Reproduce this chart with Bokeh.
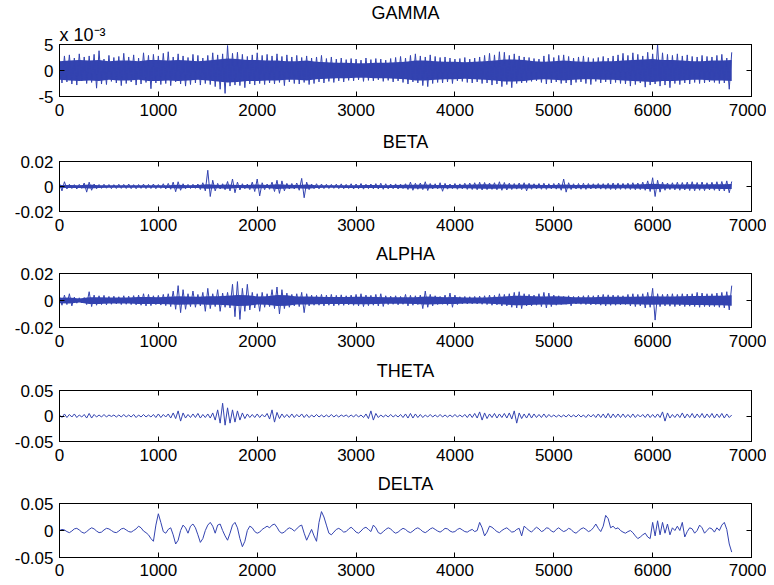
from bokeh.plotting import figure
from bokeh.layouts import column
from bokeh.models import FixedTicker, LinearAxis, Title, Range1d
from bokeh.embed import file_html
from bokeh.resources import INLINE

# sample index of every reading (one reading per 25 samples)
samples = list(range(0, 6801, 25))
# sample index of the dense-core readings (one per 100 samples)
core_samples = list(range(0, 6801, 100))

# GAMMA band, in units of 1e-3
gamma = [
    2.0, -2.4, 2.8, -2.2, 3.0, -2.6, 2.4, -2.8, 3.2, -2.0, 2.6, -2.5,
    2.8, -2.3, 3.1, -3.4, 3.8, -2.6, 2.2, -2.7, 2.9, -2.1, 2.5, -2.4,
    2.7, -2.9, 3.3, -2.5, 2.6, -2.2, 3.0, -2.8, 2.4, -2.6, 3.4, -2.3,
    2.9, -3.5, 3.1, -2.4, 2.8, -2.7, 3.3, -2.5, 3.6, -2.9, 2.6, -2.2,
    3.2, -2.6, 2.8, -3.0, 2.5, -2.7, 3.1, -2.4, 2.9, -2.8, 2.4, -2.5,
    2.9, -2.7, 3.4, -3.1, 3.0, -3.6, 3.2, -4.4, 4.8, -3.0, 3.3, -2.8,
    3.5, -2.9, 3.1, -3.3, 2.7, -2.6, 3.0, -2.8, 3.4, -2.5, 2.9, -2.7,
    3.1, -2.4, 2.8, -2.6, 3.2, -2.3, 2.7, -2.9, 3.0, -2.2, 2.6, -2.5,
    2.9, -2.6, 2.5, -2.3, 2.8, -2.7, 2.4, -2.5, 2.6, -2.2, 2.9, -2.4,
    2.3, -2.1, 2.6, -2.3, 2.2, -2.0, 2.4, -2.2, 2.1, -1.9, 2.3, -2.0,
    2.2, -1.8, 2.0, -2.1, 2.4, -1.9, 2.1, -2.0, 2.3, -1.8, 2.2, -2.1,
    2.0, -1.9, 2.3, -2.2, 2.5, -2.0, 2.7, -2.3, 2.4, -2.6, 2.9, -2.2,
    3.2, -2.4, 2.8, -2.9, 2.6, -3.1, 3.0, -2.5, 2.7, -2.3, 2.5, -2.4,
    2.6, -2.2, 2.4, -2.5, 2.2, -2.0, 2.3, -2.1, 2.5, -2.3, 2.2, -2.4,
    2.4, -2.2, 2.6, -2.5, 2.9, -2.4, 3.3, -2.8, 3.0, -2.6, 3.6, -3.1,
    3.5, -2.7, 2.9, -3.3, 3.2, -2.5, 2.8, -2.4, 2.6, -2.3, 2.5, -2.1,
    2.3, -2.0, 2.2, -2.3, 2.8, -2.6, 3.1, -2.4, 2.5, -2.2, 2.9, -2.5,
    3.0, -2.4, 2.7, -2.8, 2.4, -2.3, 2.6, -2.2, 2.8, -2.5, 2.5, -2.7,
    2.3, -2.1, 2.5, -2.4, 2.7, -2.2, 2.4, -2.6, 2.8, -2.3, 3.0, -2.5,
    3.3, -2.6, 2.9, -3.0, 3.4, -2.7, 3.1, -2.4, 2.8, -3.2, 3.5, -2.8,
    3.2, -2.6, 5.0, -3.0, 3.4, -2.8, 3.1, -3.3, 2.9, -2.5, 3.2, -2.7,
    2.8, -2.4, 3.0, -2.6, 2.7, -2.3, 2.6, -2.5, 2.9, -2.4, 2.7, -2.2,
    2.6, -2.3, 2.9, -2.5, 3.1, -2.4, 2.4, -3.6, 3.5,
]
# half-width of GAMMA's dense core, 1e-3
gamma_core = [
    1.8, 1.9, 2.0, 1.9, 2.0, 1.8, 1.9, 1.9, 1.8, 2.0,
    2.0, 1.9, 2.0, 1.9, 1.8, 1.9, 2.1, 2.3, 2.2, 2.0,
    2.0, 1.9, 1.9, 1.8, 1.8, 1.9, 1.7, 1.6, 1.5, 1.5,
    1.4, 1.4, 1.5, 1.5, 1.6, 1.7, 1.9, 1.9, 1.8, 1.7,
    1.7, 1.6, 1.7, 1.8, 1.9, 2.1, 2.1, 2.0, 1.8, 1.7,
    1.8, 1.9, 1.8, 1.7, 1.7, 1.8, 1.8, 1.9, 2.0, 2.1,
    2.2, 2.0, 2.0, 1.9, 1.8, 1.8, 1.9, 1.9, 2.0,
]

# BETA band, in units of 1e-3
beta = [
    2.5, -3.5, 3.8, -2.0, 1.8, -1.6, 1.5, -2.0, 1.7, -1.5, 2.8, -4.5,
    3.5, -3.0, 2.0, -1.8, 1.6, -1.5, 1.8, -1.4, 1.6, -1.7, 1.5, -1.6,
    1.8, -1.5, 1.7, -1.6, 2.0, -1.7, 1.5, -1.8, 1.6, -1.5, 1.9, -1.7,
    1.7, -1.6, 2.0, -1.8, 1.6, -1.5, 2.2, -2.0, 2.5, -2.2, 3.5, -4.2,
    3.8, -3.0, 2.2, -1.8, 1.7, -1.6, 1.8, -1.5, 2.0, -2.4, 3.0, -3.5,
    13.0, -8.0, 5.0, -3.5, 2.5, -2.0, 2.2, -2.6, 4.0, -3.5, 6.0, -5.0,
    3.5, -2.8, 2.2, -1.8, 2.0, -2.5, 3.5, -4.0, 6.0, -7.5, 3.0, -2.5,
    2.0, -2.2, 3.5, -4.0, 5.0, -5.5, 4.5, -3.5, 2.5, -2.0, 2.4, -2.0,
    2.8, -3.0, 6.5, -9.0, 3.5, -2.5, 2.0, -1.8, 2.2, -1.9, 2.0, -1.7,
    1.8, -1.6, 1.7, -1.5, 1.9, -1.7, 2.1, -1.8, 1.7, -1.6, 2.2, -2.0,
    2.0, -1.8, 2.4, -2.1, 1.8, -1.7, 2.0, -1.9, 2.3, -2.0, 2.6, -2.2,
    2.2, -1.9, 2.0, -1.8, 2.1, -2.0, 1.9, -1.7, 2.2, -2.4, 3.5, -3.0,
    2.6, -2.2, 2.8, -2.5, 3.8, -3.2, 2.4, -2.0, 2.2, -1.9, 3.0, -3.8,
    2.5, -2.1, 2.0, -1.8, 2.4, -2.2, 2.1, -1.9, 2.6, -2.3, 2.8, -2.4,
    3.0, -2.6, 3.4, -2.8, 3.2, -2.5, 2.8, -2.3, 3.0, -2.6, 3.8, -3.0,
    3.2, -2.8, 2.7, -2.4, 2.4, -2.1, 2.8, -2.5, 3.0, -3.5, 2.6, -2.2,
    2.2, -2.0, 2.4, -2.2, 2.6, -2.3, 2.2, -1.9, 2.4, -2.1, 2.8, -3.0,
    6.0, -4.5, 3.0, -2.4, 2.2, -2.0, 2.4, -2.2, 2.6, -2.3, 2.4, -2.0,
    2.2, -1.9, 2.4, -2.1, 2.3, -2.2, 2.6, -2.4, 2.8, -2.5, 2.7, -2.3,
    2.5, -2.2, 2.7, -2.4, 3.0, -2.6, 2.8, -2.5, 3.5, -3.0, 4.5, -4.0,
    7.0, -8.0, 5.0, -4.5, 3.5, -3.0, 2.8, -2.5, 3.0, -2.7, 3.4, -3.0,
    3.2, -2.8, 3.5, -3.2, 3.8, -3.4, 3.2, -3.0, 3.6, -3.3, 3.0, -2.7,
    3.4, -3.0, 3.8, -3.5, 4.0, -3.6, 4.5, -5.0, 4.0,
]
beta_core = [
    1.2, 1.2, 1.1, 1.6, 1.1, 1.0, 1.0, 1.0, 1.0, 1.0,
    1.0, 1.1, 1.5, 1.1, 1.2, 1.8, 1.3, 1.7, 1.2, 1.3,
    1.6, 1.2, 1.9, 1.5, 1.3, 1.7, 1.1, 1.0, 1.0, 1.1,
    1.1, 1.2, 1.2, 1.1, 1.2, 1.4, 1.5, 1.6, 1.3, 1.3,
    1.3, 1.4, 1.6, 1.8, 1.7, 1.6, 1.5, 1.6, 1.4, 1.3,
    1.3, 1.6, 1.3, 1.3, 1.4, 1.4, 1.5, 1.4, 1.6, 1.8,
    2.2, 1.8, 1.6, 1.7, 1.8, 1.7, 1.8, 1.9, 2.0,
]

# ALPHA band, in units of 1e-3
alpha = [
    3.0, -3.5, 4.0, -3.0, 5.0, -4.0, 2.5, -2.0, 2.0, -1.8, 2.2, -3.0,
    6.5, -4.5, 4.0, -3.5, 3.5, -3.0, 3.8, -3.2, 3.0, -2.8, 3.2, -2.6,
    2.8, -3.0, 3.5, -2.8, 3.2, -3.0, 3.6, -3.2, 4.0, -3.5, 5.0, -4.0,
    4.5, -3.8, 3.5, -3.0, 3.8, -3.4, 4.5, -3.8, 5.0, -4.5, 7.0, -6.5,
    11.0, -9.0, 8.0, -6.5, 5.0, -4.5, 7.0, -5.0, 4.5, -4.0, 6.0, -8.0,
    9.0, -6.0, 5.0, -4.5, 8.0, -8.0, 5.5, -5.0, 6.0, -5.5, 12.0, -12.0,
    14.0, -14.0, 9.0, -8.0, 12.0, -7.0, 6.0, -5.5, 5.0, -8.0, 6.0, -5.0,
    5.0, -4.5, 8.0, -6.0, 10.0, -10.0, 8.0, -6.0, 5.5, -5.0, 4.5, -4.0,
    5.0, -4.5, 6.0, -9.0, 5.0, -4.0, 4.0, -3.5, 3.8, -3.5, 4.5, -4.0,
    4.0, -3.5, 4.5, -4.0, 3.8, -3.5, 4.2, -3.6, 3.5, -3.2, 4.0, -3.6,
    4.5, -4.0, 5.0, -4.5, 4.0, -3.8, 3.8, -3.5, 4.5, -4.0, 5.0, -4.4,
    3.5, -3.0, 3.2, -2.8, 3.5, -3.2, 3.0, -2.8, 4.5, -4.0, 3.8, -3.5,
    3.5, -3.0, 4.0, -6.0, 7.0, -5.0, 4.5, -4.0, 3.5, -3.0, 3.0, -2.8,
    4.0, -3.5, 5.5, -5.0, 4.0, -3.0, 2.8, -2.5, 3.0, -2.6, 2.8, -2.5,
    3.0, -2.6, 3.2, -2.8, 3.5, -3.0, 4.0, -3.5, 3.8, -3.2, 5.0, -4.0,
    4.5, -4.0, 5.0, -5.0, 6.0, -5.5, 6.5, -6.0, 5.0, -4.0, 4.5, -4.0,
    4.0, -3.5, 5.0, -4.5, 6.0, -5.5, 5.5, -4.5, 4.0, -3.5, 3.5, -3.0,
    3.0, -2.8, 3.5, -4.0, 3.0, -2.6, 3.2, -2.8, 3.5, -3.0, 3.8, -3.2,
    3.5, -3.0, 4.0, -3.5, 4.5, -4.0, 4.2, -3.6, 4.0, -3.5, 3.8, -3.2,
    3.5, -3.0, 4.5, -4.0, 5.0, -4.5, 4.5, -4.0, 5.0, -5.5, 6.0, -5.0,
    9.0, -14.5, 5.0, -4.5, 4.5, -4.0, 4.8, -4.2, 5.0, -4.5, 4.5, -4.0,
    5.0, -4.5, 4.8, -4.2, 5.0, -4.5, 6.0, -5.0, 5.5, -4.5, 5.0, -4.6,
    5.0, -4.5, 5.5, -5.0, 6.0, -5.5, 6.5, -7.0, 11.0,
]
alpha_core = [
    2.0, 2.3, 1.5, 2.5, 2.5, 2.2, 2.2, 2.3, 2.6, 2.6,
    2.5, 2.8, 3.2, 3.0, 2.8, 3.2, 3.2, 3.5, 4.0, 3.8,
    3.0, 3.2, 4.0, 3.8, 3.0, 3.0, 2.8, 2.6, 2.6, 2.6,
    2.8, 2.8, 2.6, 2.4, 2.4, 2.4, 2.5, 3.0, 2.8, 2.5,
    2.6, 2.2, 2.2, 2.3, 2.6, 3.0, 3.5, 3.6, 3.2, 3.0,
    3.2, 3.0, 2.4, 2.4, 2.5, 2.8, 2.8, 2.8, 2.8, 3.0,
    3.2, 3.0, 3.0, 3.2, 3.4, 3.4, 3.5, 3.6, 3.8,
]

# THETA band, in units of 1e-3
theta = [
    2, -3, 4, -3, 3, -2, 4, -3, 2, -2, 3, -4,
    5, -4, 3, -2, 2, -2, 3, -2, 2, -1, 2, -2,
    2, -2, 3, -2, 2, -2, 3, -3, 2, -2, 3, -2,
    2, -2, 3, -3, 4, -3, 3, -2, 4, -4, 6, -5,
    10, -10, 6, -4, 3, -3, 4, -3, 5, -4, 3, -3,
    4, -4, 6, -8, 12, -14, 25, -18, 16, -14, 12, -12,
    10, -8, 6, -5, 4, -3, 3, -3, 4, -3, 3, -2,
    5, -6, 12, -12, 7, -5, 4, -3, 3, -3, 4, -3,
    3, -2, 4, -3, 3, -3, 2, -2, 3, -2, 2, -2,
    2, -2, 3, -2, 2, -2, 2, -1, 2, -2, 2, -2,
    3, -2, 2, -3, 4, -5, 10, -8, 5, -3, 2, -2,
    2, -2, 3, -2, 2, -2, 3, -3, 4, -4, 5, -4,
    4, -3, 3, -3, 2, -2, 3, -2, 2, -2, 3, -2,
    2, -2, 2, -2, 3, -2, 2, -2, 3, -3, 4, -3,
    5, -4, 8, -8, 6, -5, 4, -3, 5, -4, 4, -3,
    5, -4, 6, -6, 10, -14, 6, -5, 4, -4, 5, -4,
    4, -3, 3, -3, 4, -3, 3, -2, 2, -2, 2, -2,
    2, -2, 3, -2, 2, -2, 3, -2, 2, -3, 3, -2,
    3, -3, 4, -3, 4, -4, 5, -4, 4, -3, 4, -3,
    4, -3, 3, -3, 4, -3, 3, -2, 3, -3, 4, -3,
    3, -3, 4, -3, 8, -10, 6, -4, 3, -3, 4, -3,
    6, -4, 4, -3, 5, -4, 4, -3, 5, -4, 4, -3,
    5, -4, 4, -3, 5, -4, 4, -3, 2,
]

# DELTA band, in units of 1e-3
delta = [
    0, 2, 1, -2, -4, -1, 3, 4, 1, -3, -5, -2,
    2, 5, 3, -1, -4, -3, 1, 4, 3, 0, -3, -4,
    -1, 3, 4, 1, -2, -3, 0, 3, 8, 5, -1, -4,
    -8, -15, -20, 10, 31, 15, -2, -5, 2, 5, -8, -25,
    -18, 0, 10, 5, -5, 8, 12, 5, -8, -22, -15, 0,
    10, 15, 8, -5, 10, 12, 0, -10, -18, -5, 10, 15,
    5, -15, -30, -20, 0, 8, 5, -2, -5, -3, 2, 5,
    8, 5, 10, 12, 6, -2, -5, -3, 2, 5, 3, -1,
    3, 8, 10, -5, -18, -8, 2, -10, -20, 15, 35, 25,
    10, -5, -8, -3, 2, 4, 1, -3, -2, 3, 6, 2,
    -3, -5, -1, 4, 6, 2, -2, 10, 5, -4, -6, -2,
    2, 5, 3, -2, -5, -3, 1, 4, 2, -2, -4, -1,
    3, 5, 2, -2, -4, -1, 3, 5, 2, -1, -3, 0,
    4, 3, -1, -3, -2, 2, 4, 1, -2, -3, 0, 2,
    -2, 0, 15, 5, -10, -3, 8, 6, 2, -2, -4, 0,
    3, 5, 1, -3, -2, 2, 4, -10, 8, 4, 0, -3,
    2, 6, 3, -2, 0, 5, 4, -1, -3, 2, 5, 1,
    -2, 0, 4, 2, -3, -5, -1, 3, 5, 2, -2, 0,
    5, 12, 4, -2, 8, 28, 22, 5, 8, 3, 5, 0,
    -3, -5, -2, 0, -4, -10, -15, -12, -8, -5, -12, -15,
    15, -10, 18, -8, 15, -5, 12, -8, 5, 0, 8, 0,
    15, -12, -2, 5, 3, -5, 0, 10, 5, -5, 0, 5,
    3, -3, 5, 0, 10, 15, 2, -25, -40,
]

titles = ["GAMMA", "BETA", "ALPHA", "THETA", "DELTA"]
scale_note = "x 10\u207b\u00b3"
series = [gamma, beta, alpha, theta, delta]
cores = [gamma_core, beta_core, alpha_core, None, None]
y_limits = [5, 20, 20, 50, 50]
y_tick_labels = [
    {-5: "-5", 0: "0", 5: "5"},
    {-20: "-0.02", 0: "0", 20: "0.02"},
    {-20: "-0.02", 0: "0", 20: "0.02"},
    {-50: "-0.05", 0: "0", 50: "0.05"},
    {-50: "-0.05", 0: "0", 50: "0.05"},
]
x_ticks = [0, 1000, 2000, 3000, 4000, 5000, 6000, 7000]

# layout (px)
frame_heights = [52, 50, 54, 51, 54]
border_tops = [44, 38, 35, 36, 35]
border_bottoms = [27, 27, 27, 27, 27]
x_label_standoffs = [7, 7, 7, 7, 6]

BLUE = "#3343b0"
FONT = "Liberation Sans"


def style_axis(ax, show_labels=True, standoff=5):
    ax.axis_line_color = "black"
    ax.major_tick_line_color = "black"
    ax.major_tick_in = 5
    ax.major_tick_out = 0
    ax.minor_tick_line_color = None
    ax.major_label_text_font = FONT
    ax.major_label_text_color = "black"
    if show_labels:
        ax.major_label_text_font_size = "17px"
        ax.major_label_standoff = standoff
    else:
        ax.major_label_text_font_size = "0px"
        ax.major_label_standoff = 0


def style_axis_label(ax, standoff):
    ax.axis_label_text_font = FONT
    ax.axis_label_text_font_size = "18px"
    ax.axis_label_text_font_style = "normal"
    ax.axis_label_text_color = "black"
    ax.axis_label_standoff = standoff


figs = []
for i in range(5):
    lim = y_limits[i]
    p = figure(
        frame_width=692, frame_height=frame_heights[i],
        min_border_left=59, min_border_right=15,
        min_border_top=border_tops[i], min_border_bottom=border_bottoms[i],
        x_range=Range1d(0, 7000), y_range=Range1d(-lim, lim),
        output_backend="svg", toolbar_location=None,
    )
    if cores[i] is not None:
        core = cores[i]
        p.varea(x=core_samples, y1=[-c for c in core], y2=core,
                fill_color=BLUE, fill_alpha=1)
    p.line(samples, series[i], line_color=BLUE, line_width=1)
    p.xgrid.visible = False
    p.ygrid.visible = False
    p.outline_line_color = "black"
    p.outline_line_alpha = 1
    p.background_fill_color = "white"
    p.border_fill_color = "white"

    yt = sorted(y_tick_labels[i].keys())
    p.xaxis.ticker = FixedTicker(ticks=x_ticks)
    p.yaxis.ticker = FixedTicker(ticks=yt)
    p.yaxis.major_label_overrides = y_tick_labels[i]
    style_axis(p.xaxis[0], standoff=x_label_standoffs[i])
    style_axis(p.yaxis[0], standoff=6)

    # top edge ticks; the panel title rides on this axis as its label
    top = LinearAxis(ticker=FixedTicker(ticks=x_ticks))
    style_axis(top, show_labels=False)
    if i > 0:
        top.axis_label = titles[i]
        style_axis_label(top, 10)
    p.add_layout(top, "above")

    right = LinearAxis(ticker=FixedTicker(ticks=yt))
    style_axis(right, show_labels=False)
    p.add_layout(right, "right")

    if i == 0:
        p.add_layout(Title(text=scale_note, align="left", standoff=0,
                           text_font=FONT, text_font_size="18px",
                           text_font_style="normal", text_color="black"),
                     "above")
        p.add_layout(Title(text=titles[i], align="center", standoff=0,
                           text_font=FONT, text_font_size="18px",
                           text_font_style="normal", text_color="black"),
                     "above")
    figs.append(p)

layout = column(*figs, spacing=0)

open("out.html", "w").write(file_html(layout, INLINE))
